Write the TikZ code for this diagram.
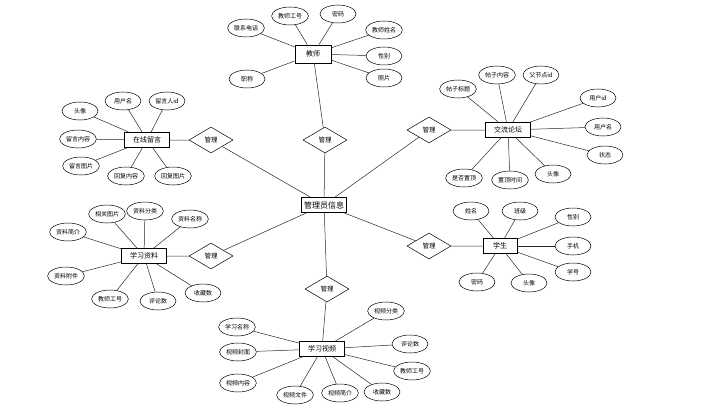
\documentclass[tikz,border=0pt]{standalone}
\usepackage{fontspec}
\setmainfont{Noto Sans CJK SC}
\usetikzlibrary{shapes.geometric}

\begin{document}
\begin{tikzpicture}[x=1pt, y=-1pt,
        entity_box/.style={rectangle, draw=black, line width=0.9pt, fill=white,
        minimum width=45pt, minimum height=15pt, inner sep=1pt, font=\fontsize{7}{7}\selectfont},
        attr/.style={ellipse, draw=black, line width=0.5pt, fill=white,
        minimum width=36pt, minimum height=18pt, inner sep=1pt, font=\fontsize{6}{6}\selectfont},
        rel_diamond/.style={diamond, draw=black, line width=0.5pt, fill=white, aspect=1.7,
        minimum width=44pt, minimum height=26pt, inner sep=0pt, font=\fontsize{6.5}{6.5}\selectfont},
        link/.style={draw=black!85, line width=0.5pt}
            ]
            \useasboundingbox (0,0) rectangle (703,409);

            % Central entity
            \node[entity_box, minimum width=45pt, font=\fontsize{8}{8}\selectfont] (admin) at (324,205) {管理员信息};

            % Relationships
            \node[rel_diamond] (rel_teacher) at (325,140) {管理};
            \node[rel_diamond] (rel_msg)     at (211,140) {管理};
            \node[rel_diamond] (rel_doc)     at (211,256) {管理};
            \node[rel_diamond] (rel_forum)   at (429,130) {管理};
            \node[rel_diamond] (rel_student) at (429,246) {管理};
            \node[rel_diamond] (rel_video)   at (327,289) {管理};

            % Teacher
            \node[entity_box, minimum width=36pt, minimum height=18pt] (teacher) at (313,54) {教师};
            \node[attr] (t_phone) at (246,28) {联系电话};
            \node[attr] (t_no)    at (290,16) {教师工号};
            \node[attr] (t_pwd)   at (338,14) {密码};
            \node[attr] (t_name)  at (384,30) {教师姓名};
            \node[attr] (t_sex)   at (384,56) {性别};
            \node[attr] (t_photo) at (384,78) {照片};
            \node[attr] (t_title) at (247,79) {职称};

            % Online messages
            \node[entity_box] (msg) at (147,140) {在线留言};
            \node[attr] (m_avatar) at (80,111)  {头像};
            \node[attr] (m_user)   at (123,101) {用户名};
            \node[attr] (m_uid)    at (167,101) {留言人id};
            \node[attr] (m_text)   at (78,139)  {留言内容};
            \node[attr] (m_img)    at (81,166)  {留言图片};
            \node[attr] (m_reply)  at (126,176) {回复内容};
            \node[attr] (m_rimg)   at (173,176) {回复图片};

            % Study materials
            \node[entity_box] (doc) at (144,256) {学习资料};
            \node[attr] (d_img)   at (107,214) {相关图片};
            \node[attr] (d_cat)   at (145,211) {资料分类};
            \node[attr] (d_name)  at (190,219) {资料名称};
            \node[attr] (d_intro) at (68,232)  {资料简介};
            \node[attr] (d_file)  at (66,276)  {资料附件};
            \node[attr] (d_tno)   at (110,299) {教师工号};
            \node[attr] (d_cmt)   at (158,301) {评论数};
            \node[attr] (d_fav)   at (203,293) {收藏数};

            % Forum
            \node[entity_box] (forum) at (508,130) {交流论坛};
            \node[attr] (f_title)  at (458,89)  {帖子标题};
            \node[attr] (f_text)   at (497,75)  {帖子内容};
            \node[attr] (f_parent) at (541,75)  {父节点id};
            \node[attr] (f_uid)    at (598,98)  {用户id};
            \node[attr] (f_user)   at (603,127) {用户名};
            \node[attr] (f_state)  at (605,155) {状态};
            \node[attr] (f_top)    at (464,178) {是否置顶};
            \node[attr] (f_time)   at (510,180) {置顶时间};
            \node[attr] (f_avatar) at (553,174) {头像};

            % Student
            \node[entity_box, minimum width=34pt] (student) at (500,246) {学生};
            \node[attr] (s_name)   at (471,211) {姓名};
            \node[attr] (s_class)  at (520,211) {班级};
            \node[attr] (s_sex)    at (573,217) {性别};
            \node[attr] (s_phone)  at (573,246) {手机};
            \node[attr] (s_no)     at (573,272) {学号};
            \node[attr] (s_pwd)    at (477,282) {密码};
            \node[attr] (s_avatar) at (529,283) {头像};

            % Study videos
            \node[entity_box] (video) at (322,349) {学习视频};
            \node[attr] (v_cat)   at (386,311) {视频分类};
            \node[attr] (v_cmt)   at (410,344) {评论数};
            \node[attr] (v_tno)   at (412,371) {教师工号};
            \node[attr] (v_fav)   at (382,392) {收藏数};
            \node[attr] (v_intro) at (340,393) {视频简介};
            \node[attr] (v_file)  at (295,395) {视频文件};
            \node[attr] (v_text)  at (238,383) {视频内容};
            \node[attr] (v_cover) at (238,352) {视频封面};
            \node[attr] (v_name)  at (237,327) {学习名称};

            % Relationship links
            \draw[link] (teacher) -- (rel_teacher) -- (admin);
            \draw[link] (msg) -- (rel_msg) -- (admin);
            \draw[link] (doc) -- (rel_doc) -- (admin);
            \draw[link] (forum) -- (rel_forum) -- (admin);
            \draw[link] (student) -- (rel_student) -- (admin);
            \draw[link] (video) -- (rel_video) -- (admin);

            % Attribute links
            \foreach \a in {t_phone, t_no, t_pwd, t_name, t_sex, t_photo, t_title}
                \draw[link] (teacher) -- (\a);
            \foreach \a in {m_avatar, m_user, m_uid, m_text, m_img, m_reply, m_rimg}
                \draw[link] (msg) -- (\a);
            \foreach \a in {d_img, d_cat, d_name, d_intro, d_file, d_tno, d_cmt, d_fav}
                \draw[link] (doc) -- (\a);
            \foreach \a in {f_title, f_text, f_parent, f_uid, f_user, f_state, f_top, f_time, f_avatar}
                \draw[link] (forum) -- (\a);
            \foreach \a in {s_name, s_class, s_sex, s_phone, s_no, s_pwd, s_avatar}
                \draw[link] (student) -- (\a);
            \foreach \a in {v_cat, v_cmt, v_tno, v_fav, v_intro, v_file, v_text, v_cover, v_name}
                \draw[link] (video) -- (\a);

        \end{tikzpicture}
\end{document}
